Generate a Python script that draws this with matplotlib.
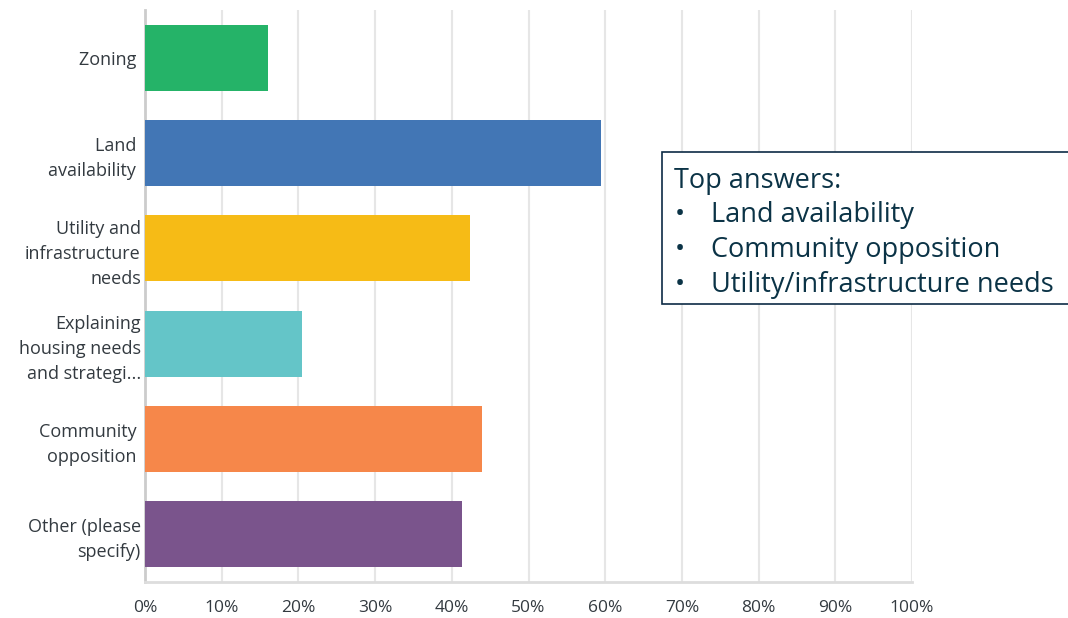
import matplotlib.pyplot as plt
from matplotlib.patches import Rectangle

# data
categories = ["Zoning ", "Land \navailability ", "Utility and\ninfrastructure\nneeds",
              "Explaining\nhousing needs\nand strategi...", "Community \nopposition ",
              "Other (please\nspecify)"]
values = [16.0, 59.4, 42.4, 20.5, 44.0, 41.3]
colors = ["#25B368", "#4276B5", "#F6BB16", "#64C5C8", "#F6874A", "#7A548C"]
xticks = [0, 10, 20, 30, 40, 50, 60, 70, 80, 90, 100]
top_answers = ["Land availability", "Community opposition", "Utility/infrastructure needs"]

plt.rcParams["font.family"] = ["Open Sans", "DejaVu Sans"]

fig = plt.figure(figsize=(10.68, 6.18), dpi=100)
ax = fig.add_axes([145 / 1068, 1 - 582 / 618, 767 / 1068, 572 / 618])

y = list(range(len(categories)))
ax.barh(y, values, height=0.69, color=colors, zorder=3)
ax.set_ylim(len(categories) - 0.5, -0.5)
ax.set_xlim(0, 100)

ax.set_yticks(y)
ax.set_yticklabels(categories, fontsize=13, color="#333a40", linespacing=1.5)
ax.set_xticks(xticks)
ax.set_xticklabels([f"{t}%" for t in xticks], fontsize=12.5, color="#333a40")
ax.tick_params(axis="y", length=0, pad=3)
ax.tick_params(axis="x", length=0, pad=13)

ax.grid(axis="x", color="#e6e6e6", linewidth=1.5, zorder=0)
for s in ["top", "right"]:
    ax.spines[s].set_visible(False)
ax.spines["left"].set_color("#cccccc")
ax.spines["left"].set_linewidth(2)
ax.spines["bottom"].set_color("#dddddd")
ax.spines["bottom"].set_linewidth(2)

# annotation box
box = Rectangle((662 / 1068, 1 - 304 / 618), 0.5, 152 / 618, transform=fig.transFigure,
                facecolor="white", edgecolor="#0d2b45", linewidth=1.2, zorder=5)
fig.patches.append(box)
txt_color = "#0b3346"
fig.text(674 / 1068, 1 - 181 / 618, "Top answers:", fontsize=19.5, color=txt_color,
         va="center", ha="left", zorder=6)
for i, item in enumerate(top_answers):
    yy = 1 - (215 + i * 35) / 618
    fig.text(675 / 1068, yy, "•", fontsize=19.5, color=txt_color, va="center", ha="left", zorder=6)
    fig.text(711 / 1068, yy, item, fontsize=19.5, color=txt_color, va="center", ha="left", zorder=6)

fig.savefig("out.png", dpi=100)
